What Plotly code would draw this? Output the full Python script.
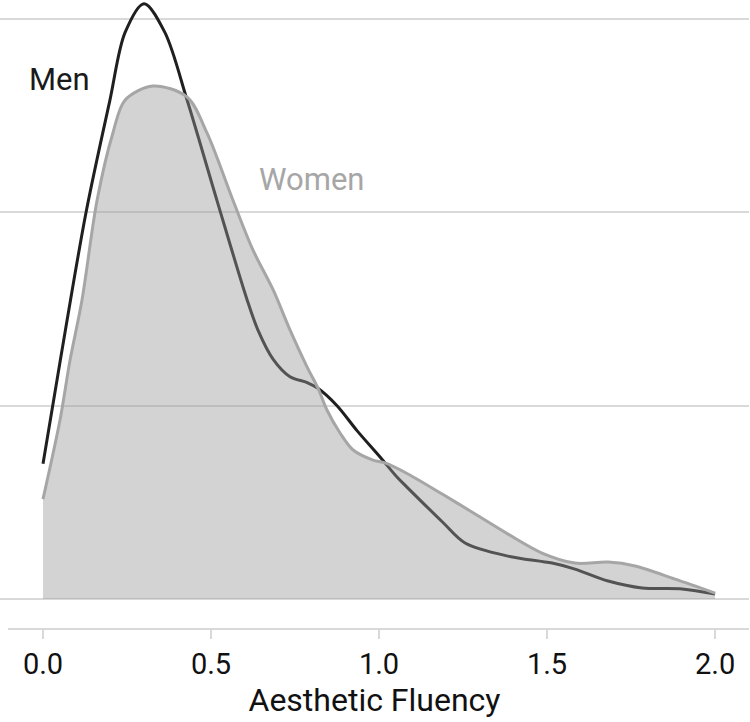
import plotly.graph_objects as go

# Density estimates (x = Aesthetic Fluency, y = density)
men_x = [0.0, 0.051, 0.128, 0.199, 0.244, 0.301, 0.363, 0.429, 0.518, 0.607,
         0.640, 0.685, 0.735, 0.786, 0.818, 0.875, 0.935, 1.003, 1.054, 1.086, 1.188,
         1.256, 1.384, 1.515, 1.583, 1.682, 1.783, 1.902, 2.0]
men_y = [0.70, 1.23, 2.00, 2.58, 2.93, 3.08, 2.93, 2.58, 2.06, 1.55,
         1.39, 1.24, 1.15, 1.12, 1.09, 1.00, 0.87, 0.735, 0.63, 0.574, 0.40,
         0.29, 0.222, 0.186, 0.155, 0.093, 0.057, 0.052, 0.026]

women_x = [0.0, 0.051, 0.080, 0.116, 0.161, 0.208, 0.244, 0.327, 0.429, 0.488, 0.565,
           0.625, 0.685, 0.735, 0.786, 0.818, 0.845, 0.884, 0.923, 0.982, 1.018, 1.086,
           1.188, 1.286, 1.384, 1.485, 1.583, 1.682, 1.762, 1.881, 2.0]
women_y = [0.517, 0.93, 1.231, 1.547, 2.064, 2.411, 2.581, 2.654, 2.597, 2.411, 2.064,
           1.805, 1.599, 1.392, 1.200, 1.092, 0.978, 0.859, 0.771, 0.719, 0.704, 0.647,
           0.543, 0.440, 0.336, 0.238, 0.186, 0.191, 0.171, 0.103, 0.031]

tick_vals = [0.0, 0.5, 1.0, 1.5, 2.0]
tick_text = ["0.0", "0.5", "1.0", "1.5", "2.0"]
grid_vals = [0, 1, 2, 3]

FONT = "Roboto, sans-serif"

fig = go.Figure()
fig.add_trace(go.Scatter(
    x=men_x, y=men_y, mode="lines", name="Men",
    line=dict(color="#1f1f1f", width=3, shape="spline", smoothing=0.9),
    showlegend=False, hoverinfo="skip"))
fig.add_trace(go.Scatter(
    x=women_x, y=women_y, mode="lines", name="Women", fill="tozeroy",
    fillcolor="rgba(154,154,154,0.43)",
    line=dict(color="#a6a6a6", width=3, shape="spline", smoothing=0.9),
    showlegend=False, hoverinfo="skip"))

fig.add_annotation(x=0.05, y=2.687, text="Men", showarrow=False,
                   font=dict(family=FONT, size=31, color="#1a1a1a"),
                   xanchor="center", yanchor="middle")
fig.add_annotation(x=0.798, y=2.173, text="Women", showarrow=False,
                   font=dict(family=FONT, size=31, color="#a6a6a6"),
                   xanchor="center", yanchor="middle")

# bottom axis line (separate from the zero gridline)
fig.add_shape(type="line", xref="paper", yref="paper", x0=8/749, x1=1, y0=0, y1=0,
              line=dict(color="#d9d9d9", width=2))

fig.update_layout(
    width=750, height=722,
    margin=dict(l=0, r=1, t=0, b=93, autoexpand=False),
    paper_bgcolor="white", plot_bgcolor="white",
    font=dict(family=FONT, color="#111111"),
    xaxis=dict(range=[-0.128, 2.101], tickvals=tick_vals, ticktext=tick_text,
               showgrid=False, zeroline=False, showline=False, automargin=False,
               ticks="outside", ticklen=9, tickwidth=2, tickcolor="#d9d9d9",
               tickfont=dict(size=29, color="#111111"),
               title=dict(text="Aesthetic Fluency", font=dict(size=32, color="#111111"),
                          standoff=4)),
    yaxis=dict(range=[-0.155, 3.099], tickvals=grid_vals, showticklabels=False,
               showgrid=True, gridcolor="#d9d9d9", gridwidth=2, zeroline=False,
               showline=False, ticks="", automargin=False),
)

fig.write_html("out.html", config={"displayModeBar": False},
               post_script="document.body.style.margin='0';document.body.style.padding='0';"
                           "window.dispatchEvent(new Event('resize'));")
